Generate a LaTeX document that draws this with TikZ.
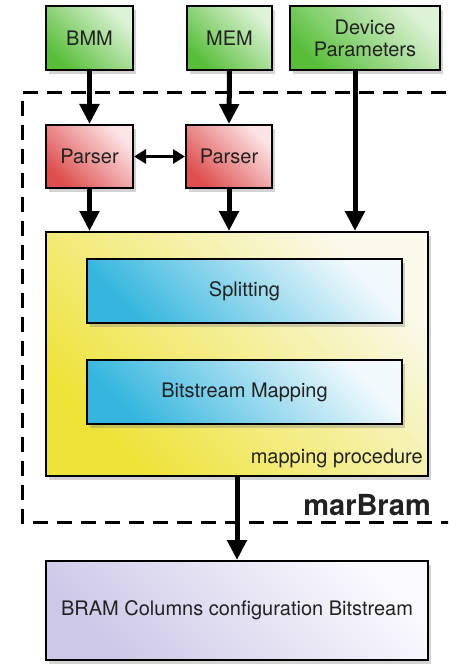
\documentclass[tikz,border=0pt]{standalone}
\usepackage{fontspec}
\setmainfont{TeX Gyre Heros}
\usetikzlibrary{arrows.meta,shadows}
\definecolor{txt}{HTML}{222222}
\definecolor{gD}{HTML}{58BE3A}
\definecolor{gL}{HTML}{DDF2D6}
\definecolor{rD}{HTML}{DE4E4E}
\definecolor{rL}{HTML}{FCE4E6}
\definecolor{yD}{HTML}{EEE236}
\definecolor{yL}{HTML}{FAF9EC}
\definecolor{bD}{HTML}{36B6DE}
\definecolor{bL}{HTML}{F2F9FC}
\definecolor{lD}{HTML}{CDC8E8}
\definecolor{lL}{HTML}{FAF9FD}
\tikzset{
  box/.style={draw=black, line width=2pt, rectangle, inner sep=0pt, align=center,
    text=txt, font=\fontsize{20}{22}\selectfont,
    drop shadow={opacity=0.35, shadow xshift=3pt, shadow yshift=-4pt}},
  greenbox/.style={box, left color=gD, right color=gL, shading angle=135},
  redbox/.style={box, left color=rD, right color=rL, shading angle=135},
  yellowbox/.style={box, left color=yD, right color=yL, shading angle=135},
  bluebox/.style={box, left color=bD, right color=bL, shading angle=135, drop shadow={opacity=0}},
  lilacbox/.style={box, left color=lD, right color=lL, shading angle=135},
  flow/.style={line width=5pt, -{Triangle[width=19pt,length=20pt]}},
  both/.style={line width=3pt, {Triangle[width=14pt,length=12pt]}-{Triangle[width=14pt,length=12pt]}},
  frame/.style={line width=3pt, dash pattern=on 15pt off 9pt}
}
\begin{document}
\begin{tikzpicture}[x=1pt,y=-1pt]
\useasboundingbox (0,0) rectangle (448,666);
\clip (0,0) rectangle (448,666);
% dashed frame
\draw[frame] (470,93) -- (22,93) -- (22,522) -- (470,522);
% inputs
\node[greenbox, minimum width=87pt, minimum height=64pt] (bmm) at (89.5,38) {BMM};
\node[greenbox, minimum width=85pt, minimum height=64pt] (mem) at (229.5,38) {MEM};
\node[greenbox, minimum width=150pt, minimum height=64pt] (dev) at (365,38) {Device\\Parameters};
% parsers
\node[redbox, minimum width=87pt, minimum height=63pt] (p1) at (89.5,156.5) {Parser};
\node[redbox, minimum width=86pt, minimum height=63pt] (p2) at (229,156.5) {Parser};
% mapping procedure
\node[yellowbox, minimum width=382pt, minimum height=244pt] (map) at (237,354) {};
\node[bluebox, minimum width=315pt, minimum height=64pt] (split) at (244.5,291) {Splitting};
\node[bluebox, minimum width=315pt, minimum height=64pt] (bsm) at (244.5,392) {Bitstream Mapping};
\node[anchor=base east, text=txt, inner sep=0pt, font=\fontsize{20}{22}\selectfont] (mp) at (423,463) {mapping procedure};
% output
\node[lilacbox, minimum width=382pt, minimum height=99pt] (bram) at (237,610.5) {BRAM Columns configuration Bitstream};
% label
\node[anchor=base east, inner sep=0pt, font=\fontsize{29}{31}\selectfont\bfseries, text=txt] (lbl) at (431,515) {marBram};
% connectors
\coordinate (devout) at ([xshift=-10pt]dev.south);
\draw[flow] (bmm.south) -- (p1.north);
\draw[flow] (mem.south) -- (p2.north);
\draw[flow] (devout) -- (map.north -| devout);
\draw[flow] (p1.south) -- (map.north -| p1.south);
\draw[flow] (p2.south) -- (map.north -| p2.south);
\draw[both] (p1.east) -- (p2.west);
\draw[flow] (map.south) -- (bram.north);
\end{tikzpicture}
\end{document}
